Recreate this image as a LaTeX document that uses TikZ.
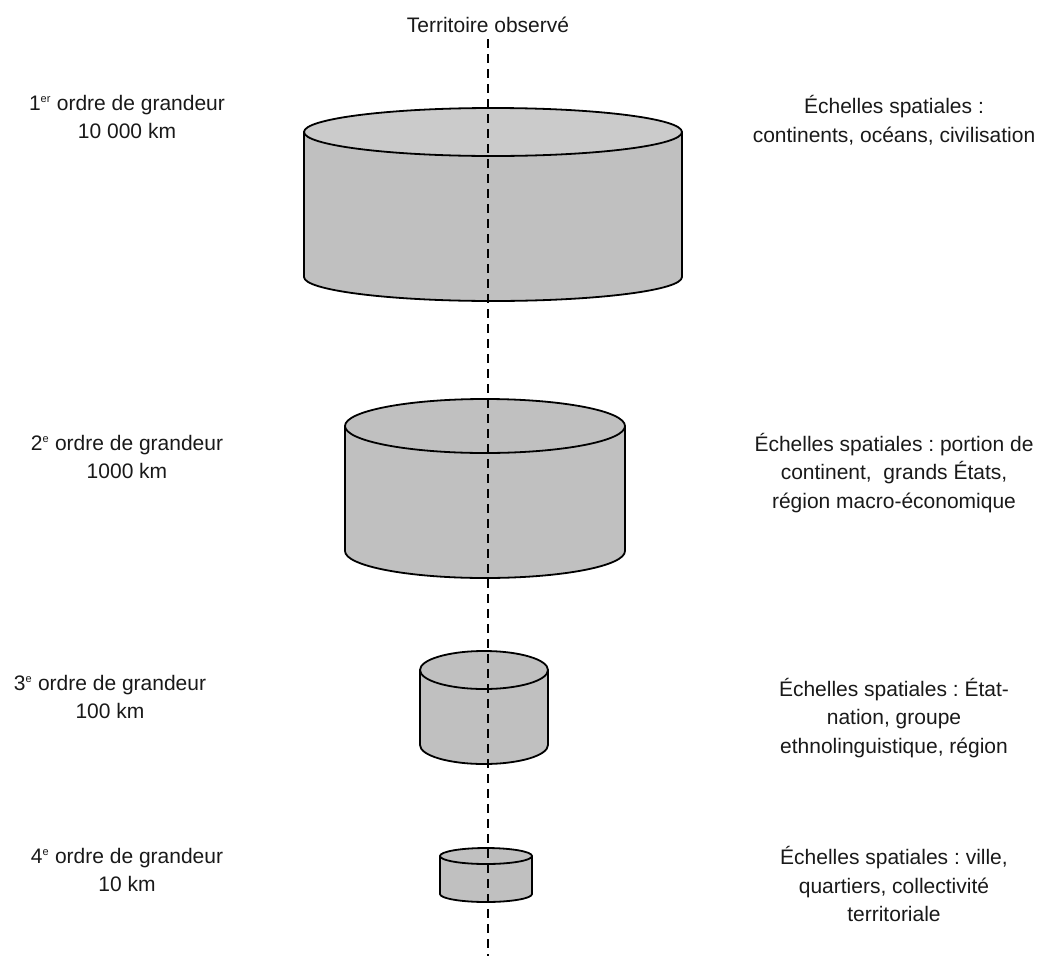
\documentclass[tikz,border=0pt]{standalone}
\usepackage{fontspec}
\setmainfont{Liberation Sans}
\frenchspacing
\newcommand{\ordsup}[1]{\textsuperscript{\fontsize{11}{11}\selectfont #1}}
\begin{document}
\begin{tikzpicture}[x=1pt,y=1pt,
  drumline/.style={draw=black, line width=1.8pt, line join=round},
  drumbody/.style={drumline, fill=drumgray},
  axisline/.style={line width=1.8pt, dash pattern=on 9pt off 6pt},
  label/.style={align=center, inner sep=0pt, text=black!90,
    font=\fontsize{21}{28.5}\selectfont},
]
\definecolor{drumgray}{HTML}{C0C0C0}
\definecolor{drumtop}{HTML}{CBCBCB}
\useasboundingbox (0,0) rectangle (1047,-956);

% drum: centre x, top y, bottom y, x radius, y radius, lid colour
\newcommand{\drumshape}[6]{%
  \path[drumbody] (#1-#4,#2) -- (#1-#4,#3)
    arc[start angle=180, end angle=360, x radius=#4, y radius=#5]
    -- (#1+#4,#2) -- cycle;
  \path[drumline, fill=#6] (#1,#2) ellipse[x radius=#4, y radius=#5];
}

% the four scales, largest on top
\drumshape{493}{-132}{-277}{189}{24}{drumtop}
\coordinate (d1) at (493,-200);
\drumshape{485}{-426}{-551}{140}{27}{drumgray}
\coordinate (d2) at (485,-488);
\drumshape{484}{-670}{-745}{64}{19}{drumgray}
\coordinate (d3) at (484,-706);
\drumshape{486}{-856}{-894}{46}{8}{drumgray}
\coordinate (d4) at (486,-875);

% observed territory: vertical axis through every drum
\node[label] (title) at (488,-25) {Territoire observé};
\coordinate (axtop) at (488,-39);
\coordinate (axbot) at (488,-956);
\draw[axisline] (axtop) -- (axbot);

% orders of magnitude
\node[label] (o1) at (127,-117) {1\ordsup{er} ordre de grandeur\\10 000 km};
\node[label] (o2) at (127,-457) {2\ordsup{e} ordre de grandeur\\1000 km};
\node[label] (o3) at (110,-697) {3\ordsup{e} ordre de grandeur\\100 km};
\node[label] (o4) at (127,-870) {4\ordsup{e} ordre de grandeur\\10 km};

% spatial scales
\node[label] (s1) at (894,-120) {Échelles spatiales :\\continents, océans, civilisation};
\node[label] (s2) at (894,-473) {Échelles spatiales : portion de\\continent,\ \ grands États,\\région macro-économique};
\node[label] (s3) at (894,-718) {Échelles spatiales : État-\\nation, groupe\\ethnolinguistique, région};
\node[label] (s4) at (894,-884) {Échelles spatiales : ville,\\quartiers, collectivité\\territoriale};
\end{tikzpicture}
\end{document}
